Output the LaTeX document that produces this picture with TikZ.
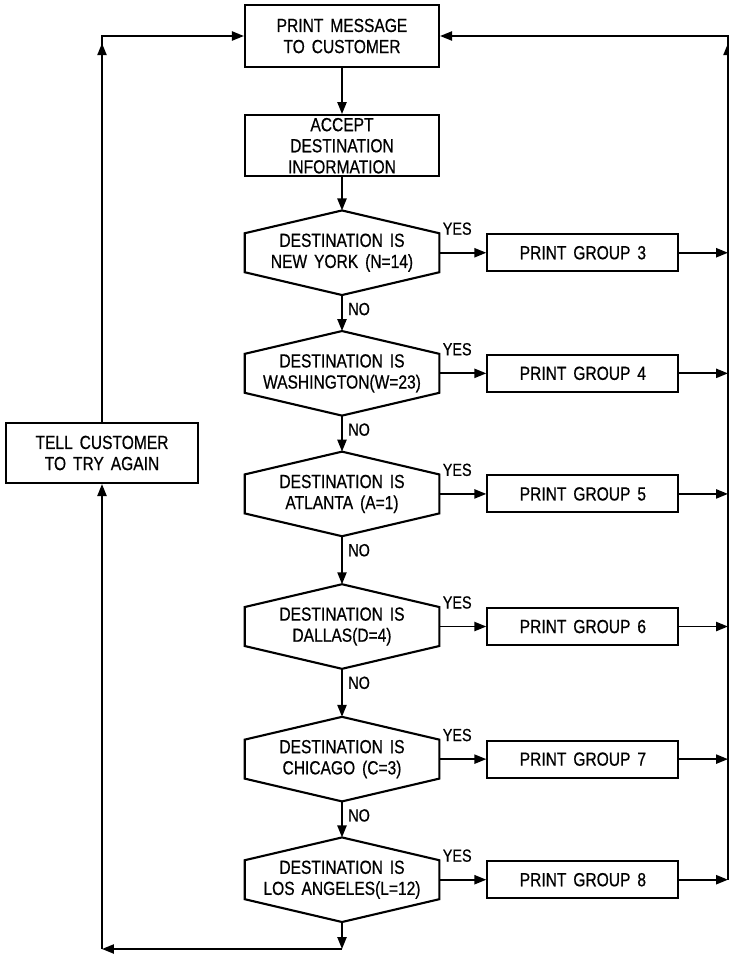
\documentclass[tikz,border=0pt]{standalone}
\usepackage{fontspec}
\setmainfont{Liberation Sans}[WordSpace=1.6,FakeStretch=0.82,FakeBold=0.6]
\usetikzlibrary{arrows.meta,positioning,calc}
\tikzset{
  box/.style={draw,line width=1.5pt,align=center,minimum width=4.85cm,
    inner sep=2pt,font=\fontsize{13.5}{15}\selectfont},
  groupbox/.style={box,minimum width=4.775cm,minimum height=0.925cm},
  test/.style={align=center,minimum width=4.85cm,minimum height=2.1cm,
    inner sep=0pt,font=\fontsize{13.5}{15}\selectfont},
  hexline/.style={draw,line width=1.5pt,line join=miter},
  arrow/.style={-{Triangle[length=8.5pt,width=6.5pt]},line width=1.3pt},
  answer/.style={font=\fontsize{12.5}{14}\selectfont,inner sep=0pt}
}

\begin{document}
\begin{tikzpicture}[x=0.025cm,y=-0.025cm,node distance=0.9cm and 1.175cm]
  \useasboundingbox (0,0) rectangle (729,956);
  \node[box,minimum height=1.55cm] (msg) at (342,36) {PRINT MESSAGE\\TO CUSTOMER};
  \node[box,minimum height=1.525cm,below=1.15cm of msg] (accept) {ACCEPT\\DESTINATION\\INFORMATION};
  \node[test,below=0.825cm of accept] (d1) {DESTINATION IS\\NEW YORK (N=14)};
  \node[test,below=of d1] (d2) {DESTINATION IS\\WASHINGTON(W=23)};
  \node[test,below=of d2] (d3) {DESTINATION IS\\ATLANTA (A=1)};
  \node[test,below=1.2cm of d3] (d4) {DESTINATION IS\\DALLAS(D=4)};
  \node[test,below=1.2cm of d4] (d5) {DESTINATION IS\\CHICAGO (C=3)};
  \node[test,below=of d5] (d6) {DESTINATION IS\\LOS ANGELES(L=12)};
  \node[box,minimum width=4.8cm,minimum height=1.5cm] (tell) at (102,453) {TELL CUSTOMER\\TO TRY AGAIN};

  \coordinate (rt) at (728,36);
  \coordinate (lt) at (tell.north |- msg.west);
  \coordinate (bot) at (342,949);
  \coordinate (lb) at (tell.south |- bot);

  \foreach \i in {1,...,6}
    \draw[hexline] (d\i.north) -- ([yshift=-0.57cm]d\i.north east) -- ([yshift=0.57cm]d\i.south east)
      -- (d\i.south) -- ([yshift=0.57cm]d\i.south west) -- ([yshift=-0.57cm]d\i.north west) -- cycle;

  \foreach \i/\g in {1/3,2/4,3/5,4/6,5/7,6/8} {
    \node[groupbox,right=of d\i] (g\g) {PRINT GROUP \g};
    \node[answer,anchor=base west] (yes\i) at ([shift={(0.08cm,0.45cm)}]d\i.east) {YES};
    \draw[arrow] (d\i.east) -- (g\g);
    \draw[arrow] (g\g) -- (g\g.east -| rt);
  }
  \foreach \i in {1,...,5}
    \node[answer,anchor=west] (no\i) at ([shift={(0.15cm,-0.35cm)}]d\i.south) {NO};

  \draw[arrow] (msg) -- (accept);
  \draw[arrow] (accept) -- (d1);
  \draw[arrow] (d1) -- (d2);
  \draw[arrow] (d2) -- (d3);
  \draw[arrow] (d3) -- (d4);
  \draw[arrow] (d4) -- (d5);
  \draw[arrow] (d5) -- (d6);
  \draw[arrow] (d6) -- (bot);
  \draw[arrow] (bot) -- (lb);
  \draw[arrow] (lb) -- (tell);
  \draw[arrow] (tell) -- (lt) -- (msg.west);
  \draw[arrow,shorten >=0.18cm] (tell) -- (lt);
  \draw[arrow] (g8.east -| rt) -- (rt) -- (msg.east);
  \draw[arrow,shorten >=0.18cm] (g8.east -| rt) -- (rt);
\end{tikzpicture}
\end{document}
